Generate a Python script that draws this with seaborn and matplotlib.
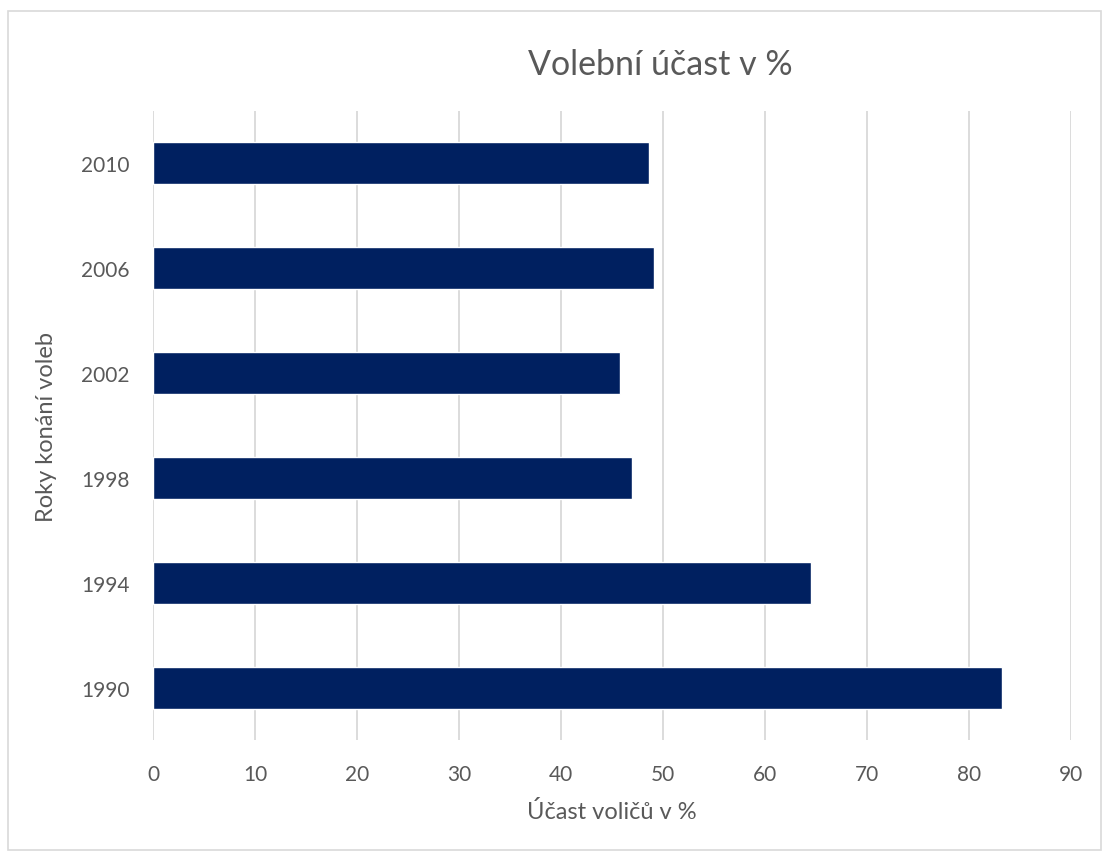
import pandas as pd
import seaborn as sns
import matplotlib.pyplot as plt
from matplotlib.patches import Rectangle

# Data
years = ["2010", "2006", "2002", "1998", "1994", "1990"]
turnout = [48.6, 49.1, 45.8, 47.0, 64.5, 83.2]
x_ticks = [0, 10, 20, 30, 40, 50, 60, 70, 80, 90]

df = pd.DataFrame({"Rok": years, "Ucast": turnout})

sns.set_style("white")
plt.rcParams["font.family"] = ["Lato", "DejaVu Sans"]

text_color = "#595959"
grid_color = "#D9D9D9"
bar_color = "#002060"

fig = plt.figure(figsize=(11.03, 8.53), dpi=100)
ax = fig.add_axes([153 / 1103, 1 - 741 / 853, (1071 - 153) / 1103, (741 - 112) / 853])

sns.barplot(data=df, x="Ucast", y="Rok", order=years, color=bar_color,
            width=0.4, saturation=1, ax=ax, zorder=3)

ax.set_xlim(0, 90)
ax.set_xticks(x_ticks)
ax.set_xticklabels([str(t) for t in x_ticks])
ax.grid(axis="x", color=grid_color, linewidth=1.3, zorder=0)
ax.set_axisbelow(True)
for s in ax.spines.values():
    s.set_visible(False)

ax.tick_params(axis="both", length=0, labelsize=15, colors=text_color)
ax.tick_params(axis="x", pad=17)
ax.tick_params(axis="y", pad=17)

ax.set_xlabel("Účast voličů v %", fontsize=17, color=text_color, labelpad=12)
ax.set_ylabel("Roky konání voleb", fontsize=17, color=text_color, labelpad=17)

fig.text(660 / 1103, 1 - 65 / 853, "Volební účast v %", fontsize=24.5,
         color=text_color, ha="center", va="center")

# Chart area border
fig.patches.append(Rectangle((8 / 1103, 1 - 851 / 853), 1093 / 1103, 839 / 853,
                             transform=fig.transFigure, fill=False,
                             edgecolor=grid_color, linewidth=1.2))

fig.savefig("out.png", dpi=100)
